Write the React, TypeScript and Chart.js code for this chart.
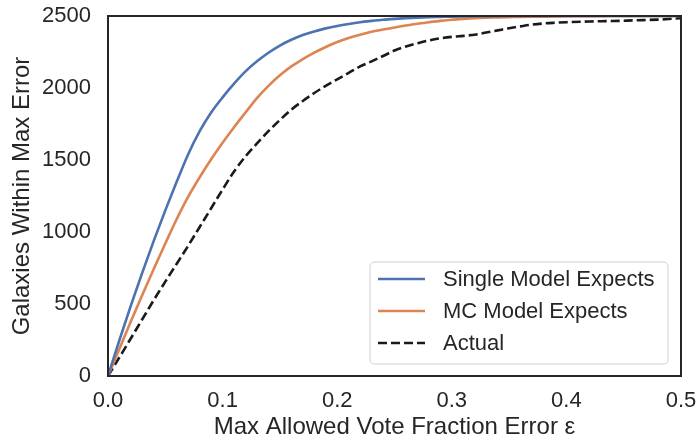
import React, { useEffect, useRef } from "react";
import { Chart, registerables } from "chart.js";

Chart.register(...registerables);

const epsilon = [0, 0.01, 0.02, 0.03, 0.04, 0.05, 0.06, 0.07, 0.08, 0.09, 0.1, 0.11, 0.12, 0.13, 0.14, 0.15, 0.16, 0.17, 0.18, 0.19, 0.2, 0.21, 0.22, 0.23, 0.24, 0.25, 0.26, 0.27, 0.28, 0.29, 0.3, 0.31, 0.32, 0.33, 0.34, 0.35, 0.36, 0.37, 0.38, 0.39, 0.4, 0.42, 0.44, 0.46, 0.48, 0.5];

const singleModel = [0, 250, 490, 720, 940, 1150, 1350, 1540, 1700, 1830, 1935, 2030, 2115, 2185, 2245, 2295, 2335, 2368, 2393, 2414, 2431, 2445, 2457, 2466, 2474, 2480, 2485, 2489, 2492, 2494, 2496, 2497, 2498, 2499, 2499, 2500, 2500, 2500, 2500, 2500, 2500, 2500, 2500, 2500, 2500, 2500];

const mcModel = [0, 190, 380, 565, 745, 920, 1090, 1245, 1380, 1505, 1620, 1728, 1830, 1930, 2015, 2088, 2150, 2200, 2245, 2285, 2320, 2348, 2370, 2390, 2406, 2420, 2434, 2446, 2457, 2466, 2474, 2480, 2485, 2488, 2490, 2492, 2494, 2495, 2496, 2497, 2498, 2499, 2500, 2500, 2500, 2500];

const actual = [0, 130, 262, 395, 528, 655, 780, 905, 1035, 1165, 1295, 1420, 1525, 1615, 1700, 1778, 1850, 1910, 1965, 2015, 2060, 2105, 2150, 2185, 2222, 2260, 2288, 2310, 2330, 2345, 2355, 2362, 2370, 2385, 2400, 2415, 2428, 2440, 2448, 2453, 2457, 2462, 2465, 2470, 2475, 2485];

const xTicks = [0, 0.1, 0.2, 0.3, 0.4, 0.5];
const yTicks = [0, 500, 1000, 1500, 2000, 2500];

const seriesLabels = ["Single Model Expects", "MC Model Expects", "Actual"];

const FONT = "'Liberation Sans', Arial, sans-serif";
const TEXT = "#262626";

const framePlugin = {
  id: "frame",
  afterDatasetsDraw(chart: any) {
    const { ctx, chartArea } = chart;
    ctx.save();
    ctx.strokeStyle = "#262626";
    ctx.lineWidth = 2;
    ctx.strokeRect(chartArea.left, chartArea.top, chartArea.right - chartArea.left, chartArea.bottom - chartArea.top);
    ctx.restore();
  },
};

const legendPlugin = {
  id: "insideLegend",
  afterDraw(chart: any) {
    const { ctx, chartArea } = chart;
    const w = 298;
    const h = 102;
    const x = chartArea.right - 13 - w;
    const y = chartArea.bottom - 12 - h;
    ctx.save();
    ctx.beginPath();
    const r = 5;
    ctx.moveTo(x + r, y);
    ctx.lineTo(x + w - r, y);
    ctx.quadraticCurveTo(x + w, y, x + w, y + r);
    ctx.lineTo(x + w, y + h - r);
    ctx.quadraticCurveTo(x + w, y + h, x + w - r, y + h);
    ctx.lineTo(x + r, y + h);
    ctx.quadraticCurveTo(x, y + h, x, y + h - r);
    ctx.lineTo(x, y + r);
    ctx.quadraticCurveTo(x, y, x + r, y);
    ctx.closePath();
    ctx.fillStyle = "rgba(255,255,255,0.9)";
    ctx.fill();
    ctx.strokeStyle = "#d0d0d0";
    ctx.lineWidth = 1;
    ctx.stroke();
    chart.data.datasets.forEach((ds: any, i: number) => {
      const cy = y + 17 + i * 32;
      ctx.beginPath();
      ctx.setLineDash(ds.borderDash || []);
      ctx.strokeStyle = ds.borderColor;
      ctx.lineWidth = ds.borderWidth;
      ctx.moveTo(x + 8, cy);
      ctx.lineTo(x + 55, cy);
      ctx.stroke();
      ctx.setLineDash([]);
      ctx.fillStyle = TEXT;
      ctx.font = `22px ${FONT}`;
      ctx.textBaseline = "middle";
      ctx.textAlign = "left";
      ctx.fillText(ds.label, x + 73, cy + 1);
    });
    ctx.restore();
  },
};

export default function App() {
  const ref = useRef<HTMLCanvasElement | null>(null);

  useEffect(() => {
    document.body.style.margin = "0";
    const toPts = (vals: number[]) => epsilon.map((e, i) => ({ x: e, y: vals[i] }));
    const common = { borderWidth: 2.6, pointRadius: 0, cubicInterpolationMode: "monotone" as const, fill: false };
    const chart = new Chart(ref.current as HTMLCanvasElement, {
      type: "line",
      data: {
        datasets: [
          { label: seriesLabels[0], data: toPts(singleModel), borderColor: "#4C72B0", ...common },
          { label: seriesLabels[1], data: toPts(mcModel), borderColor: "#DD8452", ...common },
          { label: seriesLabels[2], data: toPts(actual), borderColor: "#1a1a1a", borderDash: [9, 4], ...common },
        ],
      },
      options: {
        animation: false,
        responsive: false,
        maintainAspectRatio: false,
        layout: { padding: { left: 0, right: 18, top: 16, bottom: 0 } },
        plugins: { legend: { display: false }, tooltip: { enabled: false } },
        scales: {
          x: {
            type: "linear",
            min: 0,
            max: 0.5,
            grid: { display: false, drawTicks: false },
            border: { display: false },
            afterBuildTicks: (s: any) => { s.ticks = xTicks.map((v) => ({ value: v })); },
            ticks: { color: TEXT, font: { family: FONT, size: 22 }, padding: 12, maxRotation: 0, callback: (v: any) => Number(v).toFixed(1) },
            title: { display: true, text: "Max Allowed Vote Fraction Error ε", color: TEXT, font: { family: FONT, size: 24 }, padding: { top: 2, bottom: 0 } },
            afterFit: (s: any) => { s.height = 66; s.paddingLeft = 0; s.paddingRight = 0; },
          },
          y: {
            min: 0,
            max: 2500,
            grid: { display: false, drawTicks: false },
            border: { display: false },
            afterBuildTicks: (s: any) => { s.ticks = yTicks.map((v) => ({ value: v })); },
            ticks: { color: TEXT, font: { family: FONT, size: 22 }, padding: 17, callback: (v: any) => String(v) },
            title: { display: true, text: "Galaxies Within Max Error", color: TEXT, font: { family: FONT, size: 24 }, padding: { top: 8, bottom: 0 } },
            afterFit: (s: any) => { s.width = 108; s.paddingTop = 0; s.paddingBottom = 0; },
          },
        },
      },
      plugins: [framePlugin, legendPlugin],
    });
    return () => chart.destroy();
  }, []);

  return <canvas ref={ref} width={699} height={442} style={{ display: "block" }} />;
}
